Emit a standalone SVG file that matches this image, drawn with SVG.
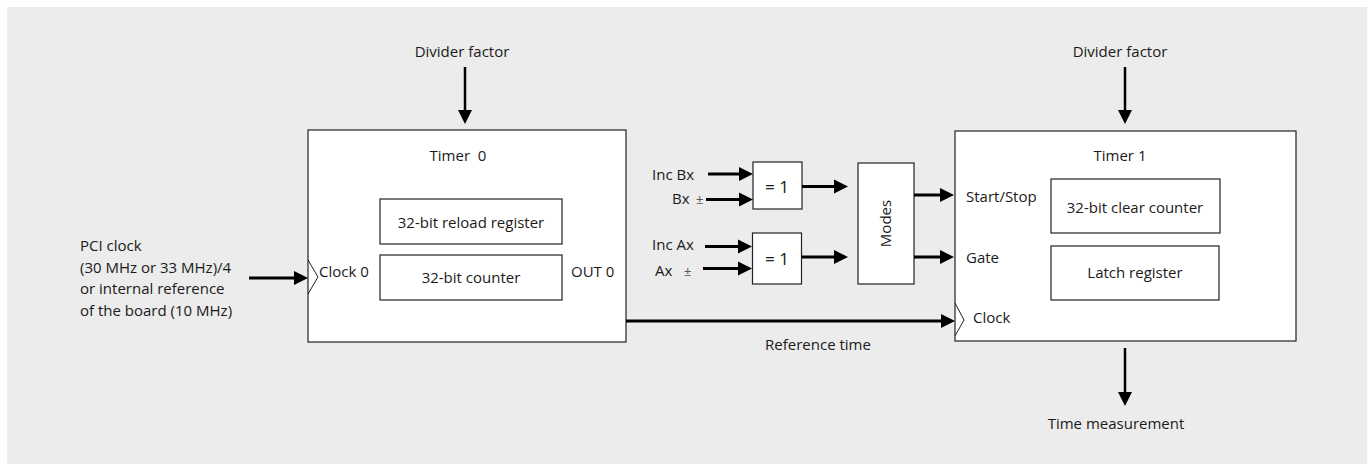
<svg xmlns="http://www.w3.org/2000/svg" width="1370" height="464" viewBox="0 0 1370 464">
<style>
text{font-family:"Open Sans","Noto Sans","Liberation Sans",sans-serif;font-size:15px;fill:#1a1a1a}
.m{text-anchor:middle}
.pm{font-size:13px;fill:#555}
.box{fill:#fff;stroke:#222;stroke-width:1.2}
.w{stroke:#000;stroke-width:3;fill:none}
.v{stroke:#000;stroke-width:2.5;fill:none}
.chev{fill:none;stroke:#222;stroke-width:1}
</style>
<defs>
<marker id="ah" markerUnits="userSpaceOnUse" markerWidth="15" markerHeight="15" refX="2" refY="7" orient="auto" viewBox="0 0 15 14">
<path d="M0,0 L14,7 L0,14 z" fill="#000"/>
</marker>
</defs>
<rect x="7" y="7" width="1360" height="460" fill="#ebeceb"/>

<g id="timer0">
<rect class="box" x="308" y="130" width="318" height="212"/>
<text class="m" x="458" y="161" xml:space="preserve">Timer  0</text>
<text x="319" y="277">Clock 0</text>
<text x="571" y="277">OUT 0</text>
<polyline class="chev" points="308,260 318,277 308,294"/>
</g>
<g id="reload">
<rect class="box" x="380" y="199" width="182" height="45"/>
<text class="m" x="471" y="228">32-bit reload register</text>
</g>
<g id="counter">
<rect class="box" x="380" y="255" width="182" height="45"/>
<text class="m" x="471" y="283">32-bit counter</text>
</g>

<g id="xor-b">
<rect class="box" x="753" y="162" width="49" height="47"/>
<text class="m" x="777" y="193" style="font-size:17px">= 1</text>
</g>
<g id="xor-a">
<rect class="box" x="752.5" y="233" width="49" height="51"/>
<text class="m" x="777" y="265" style="font-size:17px">= 1</text>
</g>
<g id="modes">
<rect class="box" x="858" y="163" width="56" height="121"/>
<text class="m" transform="translate(891,223.5) rotate(-90)" style="font-size:15px">Modes</text>
</g>

<g id="timer1">
<rect class="box" x="955" y="131" width="341" height="210"/>
<text class="m" x="1120" y="161">Timer 1</text>
<text x="966" y="201.5">Start/Stop</text>
<text x="966" y="262.5">Gate</text>
<text x="973" y="323">Clock</text>
<polyline class="chev" points="955,303 964,320 955,336"/>
</g>
<g id="clear">
<rect class="box" x="1051" y="179" width="169" height="54"/>
<text class="m" x="1135" y="213">32-bit clear counter</text>
</g>
<g id="latch">
<rect class="box" x="1051" y="246" width="168" height="54"/>
<text class="m" x="1135" y="278">Latch register</text>
</g>

<g id="labels">
<text class="m" x="462" y="57">Divider factor</text>
<text class="m" x="1120" y="57">Divider factor</text>
<text x="80" y="251">PCI clock</text>
<text x="80" y="272.5">(30 MHz or 33 MHz)/4</text>
<text x="80" y="294">or internal reference</text>
<text x="80" y="315.5">of the board (10 MHz)</text>
<text x="652" y="179.5">Inc Bx</text>
<text x="672" y="203.5">Bx</text>
<text class="pm" x="696" y="204">±</text>
<text x="652" y="249.5">Inc Ax</text>
<text x="655" y="275.5">Ax</text>
<text class="pm" x="684" y="276">±</text>
<text class="m" x="818" y="350">Reference time</text>
<text class="m" x="1116" y="429">Time measurement</text>
</g>

<g id="connectors">
<line class="v" x1="465" y1="67" x2="465" y2="112" marker-end="url(#ah)"/>
<line class="v" x1="1125" y1="67" x2="1125" y2="112" marker-end="url(#ah)"/>
<line class="v" x1="1125" y1="348" x2="1125" y2="394" marker-end="url(#ah)"/>
<line class="w" x1="249" y1="278" x2="296" y2="278" marker-end="url(#ah)"/>
<line class="w" x1="626" y1="321" x2="943" y2="321" marker-end="url(#ah)"/>
<line class="w" x1="708" y1="174" x2="741" y2="174" marker-end="url(#ah)"/>
<line class="w" x1="706" y1="199.5" x2="741" y2="199.5" marker-end="url(#ah)"/>
<line class="w" x1="705" y1="246.5" x2="740" y2="246.5" marker-end="url(#ah)"/>
<line class="w" x1="703" y1="268.5" x2="740" y2="268.5" marker-end="url(#ah)"/>
<line class="w" x1="802" y1="186.5" x2="836" y2="186.5" marker-end="url(#ah)"/>
<line class="w" x1="802" y1="257" x2="836" y2="257" marker-end="url(#ah)"/>
<line class="w" x1="914" y1="195" x2="942" y2="195" marker-end="url(#ah)"/>
<line class="w" x1="914" y1="257" x2="942" y2="257" marker-end="url(#ah)"/>
</g>
</svg>
